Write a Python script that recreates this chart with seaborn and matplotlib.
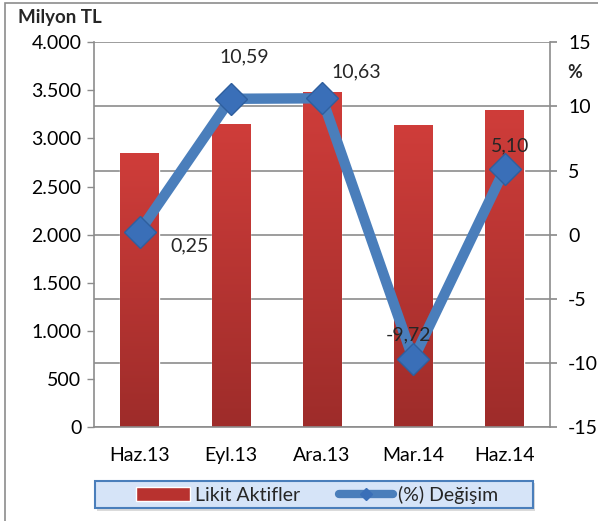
import numpy as np
import pandas as pd
import matplotlib
matplotlib.use("Agg")
import matplotlib.pyplot as plt
import seaborn as sns
from matplotlib.patches import Rectangle
from matplotlib.lines import Line2D
from matplotlib.colors import LinearSegmentedColormap

# data
periods = ["Haz.13", "Eyl.13", "Ara.13", "Mar.14", "Haz.14"]
likit_aktifler = [2845, 3145, 3480, 3135, 3300]
degisim = [0.25, 10.59, 10.63, -9.72, 5.10]
degisim_labels = ["0,25", "10,59", "10,63", "-9,72", "5,10"]
left_ticks = [0, 500, 1000, 1500, 2000, 2500, 3000, 3500, 4000]
left_ticklabels = ["0", "500", "1.000", "1.500", "2.000", "2.500", "3.000", "3.500", "4.000"]
right_ticks = [-15, -10, -5, 0, 5, 10, 15]

sns.set_theme(style="white")
plt.rcParams['font.family'] = ['Lato', 'DejaVu Sans']
FS = 14

df = pd.DataFrame({"period": periods, "value": likit_aktifler, "pct": degisim})

fig = plt.figure(figsize=(5.98, 5.21), dpi=100)
ax = fig.add_axes([0.157, 0.180, 0.763, 0.739])

# outer frame
fig.patches.append(Rectangle((5 / 598, -0.01), 1.1, 1 - 3 / 521 + 0.01, transform=fig.transFigure,
                             fill=False, edgecolor="#8c8c8c", lw=1.2))

sns.barplot(data=df, x="period", y="value", color="#c0392f", width=0.42, ax=ax,
            saturation=1, zorder=2)

# vertical gradient on bars
cmap = LinearSegmentedColormap.from_list("bar", ["#9e2c2a", "#cf3d3a"])
grad = np.linspace(0, 1, 256).reshape(-1, 1)
for p in ax.patches:
    x0, y0 = p.get_x(), p.get_y()
    w, h = p.get_width(), p.get_height()
    im = ax.imshow(grad, cmap=cmap, origin="lower", aspect="auto",
                   extent=[x0, x0 + w, y0, y0 + h], zorder=2)
    im.set_clip_path(p)
ax.set_xlim(-0.5, 4.5)
ax.set_ylim(0, 4000)

ax.set_yticks(left_ticks)
ax.set_yticklabels(left_ticklabels)
ax.set_xlabel("")
ax.set_ylabel("")
ax.tick_params(axis="both", labelsize=FS, colors="black", length=5, width=1, direction="out")
ax.tick_params(axis="y", color="#8c8c8c", pad=4)
ax.tick_params(axis="x", color="#8c8c8c", pad=14)
ax.set_xticks([-0.5, 0.5, 1.5, 2.5, 3.5, 4.5], minor=True)
ax.tick_params(axis="x", which="major", length=0)
ax.tick_params(axis="x", which="minor", length=8, color="#8c8c8c", direction="inout")
for s in ["top", "right"]:
    ax.spines[s].set_visible(False)
for s in ["left", "bottom"]:
    ax.spines[s].set_color("#8c8c8c")
    ax.spines[s].set_linewidth(1.2)

ax2 = ax.twinx()
ax2.set_ylim(-15, 15)
ax2.set_yticks(right_ticks)
ax2.set_yticklabels([str(t) for t in right_ticks])
ax2.tick_params(axis="y", labelsize=FS, colors="black", length=5, color="#8c8c8c", pad=8)
for t in right_ticks:
    ax2.axhline(t, color="#8c8c8c", lw=1.2, zorder=0)
for s in ["top", "left", "bottom"]:
    ax2.spines[s].set_visible(False)
ax2.spines["right"].set_color("#8c8c8c")
ax2.spines["right"].set_linewidth(1.2)
ax2.patch.set_visible(False)

xpos = np.arange(len(periods))
sns.lineplot(x=xpos, y=degisim, ax=ax2, color="#4a7ebb", lw=7.5, marker="D",
             markersize=16, markerfacecolor="#3a6fb8", markeredgecolor="#2f5f9e",
             markeredgewidth=1, zorder=5)
ax2.set_xlim(-0.5, 4.5)
ax2.set_ylabel("")

# gridlines behind bars, line on top
ax2.set_zorder(1)
ax.set_zorder(2)
ax.patch.set_visible(False)
for ln in list(ax2.lines):
    if ln.get_marker() == "D":
        ln.remove()
        ax.add_line(ln)
        ln.set_transform(ax2.transData)

# data labels
offsets = [(0.55, -1.15), (0.15, 3.24), (0.37, 2.03), (-0.05, 1.88), (0.06, 1.79)]
for i, (lab, (dx, dy)) in enumerate(zip(degisim_labels, offsets)):
    ax.text(xpos[i] + dx, degisim[i] + dy, lab, fontsize=FS, ha="center", va="center",
            zorder=6, transform=ax2.transData)

fig.text(18 / 598, 1 - 18 / 521, "Milyon TL", fontsize=13.5, fontweight="bold", va="center", ha="left")
fig.text(575 / 598, 1 - 73 / 521, "%", fontsize=13, fontweight="bold", va="center", ha="center")

# legend box (drawn by hand to match the width of the reference)
fig.patches.append(Rectangle((97 / 598, 1 - 511 / 521), 438 / 598, 28 / 521, transform=fig.transFigure,
                             facecolor="#b8b8b8", edgecolor="none", alpha=0.5, zorder=3))
fig.patches.append(Rectangle((95 / 598, 1 - 508 / 521), 438 / 598, 27 / 521, transform=fig.transFigure,
                             facecolor="#d6e4f8", edgecolor="#4a7ebb", lw=1.5, zorder=4))
bar_handle = Rectangle((0, 0), 1, 1, facecolor="#b8322f")
line_handle = Line2D([0], [0], color="#4a7ebb", lw=6, marker="D", markersize=6,
                     markerfacecolor="#3a6fb8", markeredgecolor="#3a6fb8")
leg = fig.legend([bar_handle, line_handle], ["Likit Aktifler", "(%) Değişim"],
                 loc="center", bbox_to_anchor=(317 / 598, 1 - 495 / 521),
                 ncol=2, fontsize=FS, frameon=False, handlelength=2.8,
                 columnspacing=2.0, handletextpad=0.25, borderpad=0.3)
leg.set_zorder(5)

fig.savefig("out.png", dpi=100)
